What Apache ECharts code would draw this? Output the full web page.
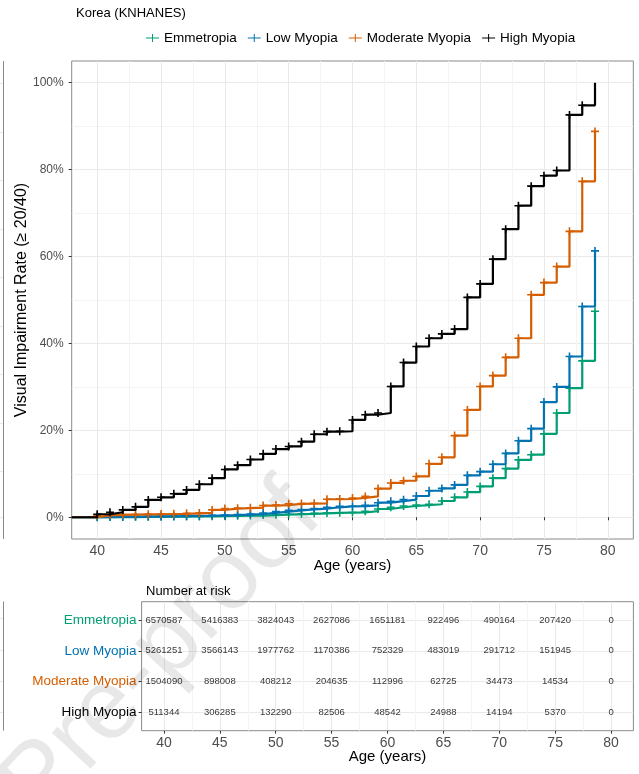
<!DOCTYPE html>
<html>
<head>
<meta charset="utf-8">
<script src="https://cdn.jsdelivr.net/npm/echarts@6/dist/echarts.min.js"></script>
<style>
  html, body { margin: 0; padding: 0; background: #ffffff; }
  #chart { width: 639px; height: 774px; }
</style>
</head>
<body>
<div id="chart"></div>
<script>
// Cumulative visual impairment by refractive group, Korea (KNHANES)
const groups = ['Emmetropia', 'Low Myopia', 'Moderate Myopia', 'High Myopia'];
const groupColors = ['#009E73', '#0072B2', '#D55E00', '#000000'];

// age (years) at which each step level begins
const ages = [38, 40, 41, 42, 43, 44, 45, 46, 47, 48, 49, 50, 51, 52, 53, 54, 55, 56, 57, 58, 59,
  60, 61, 62, 63, 64, 65, 66, 67, 68, 69, 70, 71, 72, 73, 74, 75, 76, 77, 78, 79];

// cumulative rate (%) from that age on
const emmetropia = [0, 0.0, 0.05, 0.05, 0.1, 0.1, 0.15, 0.15, 0.2, 0.2, 0.25,
  0.3, 0.35, 0.4, 0.5, 0.6, 0.7, 0.8, 0.9, 1.0, 1.05,
  1.1, 1.4, 1.9, 2.3, 2.6, 2.8, 3.0, 3.75, 4.6, 5.8,
  7.1, 9.0, 11.2, 13.2, 14.4, 19.2, 24.0, 29.7, 36.0, 47.4];
const lowMyopia = [0, 0.05, 0.1, 0.1, 0.15, 0.2, 0.2, 0.25, 0.3, 0.35, 0.45,
  0.5, 0.6, 0.75, 1.0, 1.3, 1.6, 1.8, 2.0, 2.3, 2.5,
  2.55, 2.75, 3.35, 3.7, 4.05, 4.9, 6.1, 6.65, 7.45, 9.65,
  10.5, 12.2, 14.7, 17.6, 20.4, 26.5, 30.0, 37.0, 48.5, 61.3];
const moderateMyopia = [0, 0.45, 0.55, 0.6, 0.65, 0.7, 0.75, 0.8, 0.9, 1.0, 1.7,
  2.0, 2.1, 2.2, 2.7, 2.8, 3.1, 3.15, 3.2, 4.15, 4.2,
  4.45, 4.8, 6.6, 7.9, 8.4, 9.4, 12.3, 13.8, 18.8, 24.7,
  30.1, 32.6, 36.8, 41.2, 51.2, 54.0, 57.7, 65.8, 77.3, 88.8];
const highMyopia = [0, 0.7, 1.15, 1.7, 2.4, 4.0, 4.6, 5.4, 6.3, 7.6, 9.0,
  11.0, 12.0, 13.3, 14.6, 15.7, 16.3, 17.4, 19.1, 19.7, 19.8,
  22.4, 23.6, 24.0, 30.1, 35.6, 39.3, 41.2, 42.2, 43.3, 50.6,
  53.7, 59.4, 66.3, 71.7, 76.2, 78.6, 79.8, 92.6, 94.8, 100];

// number at risk
const riskAges = [40, 45, 50, 55, 60, 65, 70, 75, 80];
const riskEmmetropia = [6570587, 5416383, 3824043, 2627086, 1651181, 922496, 490164, 207420, 0];
const riskLowMyopia = [5261251, 3566143, 1977762, 1170386, 752329, 483019, 291712, 151945, 0];
const riskModerateMyopia = [1504090, 898008, 408212, 204635, 112996, 62725, 34473, 14534, 0];
const riskHighMyopia = [511344, 306285, 132290, 82506, 48542, 24988, 14194, 5370, 0];

// axis ticks
const xTicks = [40, 45, 50, 55, 60, 65, 70, 75, 80];
const xMinorTicks = [42.5, 47.5, 52.5, 57.5, 62.5, 67.5, 72.5, 77.5];
const yTicks = [0, 20, 40, 60, 80, 100];
const yMinorTicks = [10, 30, 50, 70, 90];
const riskRows = [1, 2, 3, 4];

const curves = [emmetropia, lowMyopia, moderateMyopia, highMyopia];
const riskCounts = [riskEmmetropia, riskLowMyopia, riskModerateMyopia, riskHighMyopia];

const FONT = 'Liberation Sans, Arial, Helvetica, sans-serif';
const PLUS = 'path://M0,3.2h8v1.6H0z M3.2,0h1.6v8H3.2z';
const LEGEND_PLUS = 'path://M0,7L26,7L26,9L0,9Z M12,0L14,0L14,16L12,16Z';
const MAJOR = '#e9e9e9';
const MINOR = '#f4f4f4';
const BORDER = '#8a8a8a';
const TICKTXT = '#4d4d4d';

const chart = echarts.init(document.getElementById('chart'), null, { renderer: 'canvas' });

function majorX(gridIndex, withLabels) {
  return {
    type: 'value', gridIndex, min: 38, max: 82, position: 'bottom',
    axisLine: { show: false },
    axisTick: { show: true, customValues: xTicks, length: 3, lineStyle: { color: '#333', width: 1 } },
    axisLabel: { show: withLabels, customValues: xTicks, fontSize: 14, color: TICKTXT, fontFamily: FONT, margin: 5 },
    splitLine: { show: true, lineStyle: { color: MAJOR, width: 1 } },
    name: 'Age (years)', nameLocation: 'middle', nameGap: 19, nameMoveOverlap: false,
    nameTextStyle: { fontSize: 15, color: '#000', fontFamily: FONT }
  };
}
function minorX(gridIndex) {
  return {
    type: 'value', gridIndex, min: 38, max: 82, position: 'bottom',
    axisLine: { show: false },
    axisTick: { show: false, customValues: xMinorTicks },
    axisLabel: { show: false, customValues: xMinorTicks },
    splitLine: { show: true, lineStyle: { color: MINOR, width: 1 } }
  };
}

const lineSeries = groups.map((g, gi) => ({
  name: g,
  type: 'line',
  xAxisIndex: 0, yAxisIndex: 0,
  step: 'end',
  color: groupColors[gi],
  lineStyle: { width: 2.2, color: groupColors[gi] },
  symbol: PLUS,
  symbolSize: 8,
  showSymbol: true,
  itemStyle: { color: groupColors[gi] },
  emphasis: { disabled: true },
  z: 3 + gi,
  data: ages.map((a, i) => {
    const point = { value: [a, curves[gi][i]] };
    if (i === 0 || (gi === 3 && i === ages.length - 1)) point.symbol = 'none';
    return point;
  })
}));

const riskSeries = {
  name: 'risk',
  type: 'scatter',
  xAxisIndex: 2, yAxisIndex: 2,
  symbol: 'circle', symbolSize: 1,
  itemStyle: { color: 'rgba(0,0,0,0)' },
  silent: true,
  label: {
    show: true, position: 'inside',
    formatter: p => String(p.value[2]),
    fontSize: 9.5, color: '#000', fontFamily: FONT
  },
  data: riskCounts.flatMap((row, ri) => row.map((n, k) => [riskAges[k], riskRows[ri], n]))
};

// fragments of the neighbouring panels at the far left edge
const leftStubsTop = [83, 132, 180, 229, 277, 326, 374, 423, 471, 517];
const leftStubsRisk = [618, 650, 681, 712];
const edgeGraphics = [
  { type: 'line', shape: { x1: 3.5, y1: 61, x2: 3.5, y2: 539 }, style: { stroke: BORDER, lineWidth: 1 } },
  { type: 'line', shape: { x1: 3.5, y1: 601.5, x2: 3.5, y2: 730.5 }, style: { stroke: BORDER, lineWidth: 1 } }
].concat(leftStubsTop.concat(leftStubsRisk).map(y => ({
  type: 'line', shape: { x1: 0, y1: y + 0.5, x2: 3, y2: y + 0.5 }, style: { stroke: MAJOR, lineWidth: 1 }
})));

const option = {
  backgroundColor: '#ffffff',
  animation: false,
  textStyle: { fontFamily: FONT },
  title: [
    { text: 'Korea (KNHANES)', left: 71, top: 2, textStyle: { fontSize: 13, fontWeight: 'normal', color: '#000', fontFamily: FONT } },
    { text: 'Number at risk', left: 141, top: 580, textStyle: { fontSize: 13, fontWeight: 'normal', color: '#000', fontFamily: FONT } }
  ],
  legend: {
    data: groups,
    left: 141, top: 26,
    icon: LEGEND_PLUS,
    itemWidth: 13, itemHeight: 8,
    itemGap: 11,
    selectedMode: false,
    textStyle: { fontSize: 13.5, color: '#000', fontFamily: FONT }
  },
  grid: [
    { left: 71.7, right: 5.7, top: 61, bottom: 235, show: true, borderColor: BORDER, borderWidth: 1, backgroundColor: 'transparent', containLabel: false, outerBoundsMode: 'none' },
    { left: 141.6, right: 5.6, top: 601.7, bottom: 43.3, show: true, borderColor: BORDER, borderWidth: 1, backgroundColor: 'transparent', containLabel: false, outerBoundsMode: 'none' }
  ],
  xAxis: [
    majorX(0, true),
    minorX(0),
    majorX(1, true),
    minorX(1)
  ],
  yAxis: [
    {
      type: 'value', gridIndex: 0, min: -5, max: 105,
      axisLine: { show: false },
      axisTick: { show: true, customValues: yTicks, length: 3, lineStyle: { color: '#333' } },
      axisLabel: { customValues: yTicks, formatter: v => v + '%', fontSize: 12, color: TICKTXT, fontFamily: FONT, margin: 8 },
      splitLine: { show: true, lineStyle: { color: MAJOR } },
      name: 'Visual Impairment Rate (\u2265 20/40)', nameLocation: 'middle', nameRotate: 90, nameGap: 42, nameMoveOverlap: false,
      nameTextStyle: { fontSize: 16, color: '#000', fontFamily: FONT }
    },
    {
      type: 'value', gridIndex: 0, min: -5, max: 105,
      axisLine: { show: false },
      axisTick: { show: false, customValues: yMinorTicks },
      axisLabel: { show: false, customValues: yMinorTicks },
      splitLine: { show: true, lineStyle: { color: MINOR } }
    },
    {
      type: 'value', gridIndex: 1, min: 0.4, max: 4.6, inverse: true,
      axisLine: { show: false },
      axisTick: { show: true, customValues: riskRows, length: 3, lineStyle: { color: '#333' } },
      axisLabel: {
        customValues: riskRows,
        formatter: v => groups[v - 1],
        color: (v) => groupColors[Math.round(Number(v)) - 1],
        fontSize: 13.5, fontFamily: FONT, margin: 5
      },
      splitLine: { show: true, lineStyle: { color: MAJOR } }
    }
  ],
  graphic: [
    {
      type: 'text', z: 1, silent: true,
      x: 341, y: 533, rotation: 47 * Math.PI / 180,
      style: { text: 'Journal Pre-proof', font: '100px ' + FONT, fill: 'rgba(0,0,0,0.09)', align: 'right', verticalAlign: 'bottom' }
    }
  ].concat(edgeGraphics),
  series: lineSeries.concat([riskSeries])
};

chart.setOption(option);
</script>
</body>
</html>
